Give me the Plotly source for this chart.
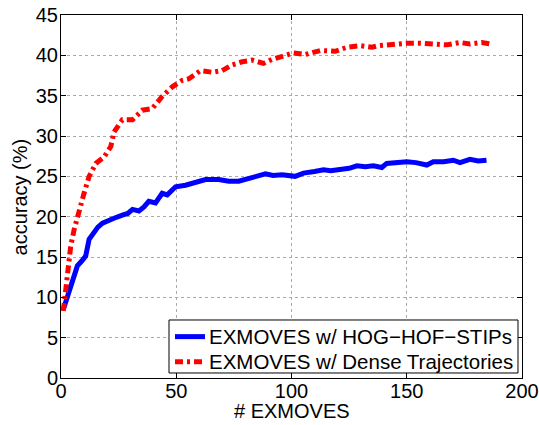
import plotly.graph_objects as go

# HOG-HOF-STIPs series
hog_x = [1, 3.5, 5.5, 7.1, 9, 10.7, 12.2, 14, 16, 18, 20, 23, 26.6, 29, 31, 33.8, 36, 38.1, 41,
         43.9, 46.1, 49.7, 54, 58.4, 62.7, 68.4, 72.8, 77.1, 82.9, 88.7, 92, 95.9, 101.6, 105.2,
         110, 113.9, 117, 121.1, 125, 128.4, 132, 135.5, 139.2, 141.3, 146, 150, 154, 158.7,
         161.5, 166, 170.2, 173.1, 177.4, 181, 184.6]
hog_y = [8.5, 10.6, 12.5, 13.9, 14.5, 15.1, 17.2, 18.0, 18.7, 19.2, 19.5, 19.8, 20.2, 20.4, 20.9,
         20.7, 21.2, 21.9, 21.7, 22.9, 22.7, 23.7, 23.9, 24.2, 24.6, 24.6, 24.4, 24.4, 24.8, 25.3,
         25.1, 25.2, 25.0, 25.4, 25.6, 25.8, 25.7, 25.8, 26.0, 26.3, 26.2, 26.3, 26.1, 26.6, 26.7,
         26.8, 26.7, 26.4, 26.8, 26.8, 27.0, 26.7, 27.1, 26.9, 27.0]

# Dense Trajectories series
dt_x = [1, 2.8, 4.2, 5.7, 7.8, 10, 12.2, 15.1, 18.7, 21.6, 23, 26.6, 31, 35.3, 39.6, 43.9, 48.3,
        52.6, 55.5, 60.5, 65.6, 69.9, 74.2, 78.6, 82.9, 87.9, 91.6, 97.3, 100.9, 106, 112.5, 119,
        124, 129.8, 134.9, 137.7, 144.2, 150, 155.8, 161.5, 167.3, 173.1, 177.4, 182.5, 186.8]
dt_y = [8.3, 12.6, 16.3, 18.4, 20.9, 22.9, 25.0, 26.6, 27.4, 28.7, 30.5, 32.0, 32.0, 33.2, 33.4,
        34.9, 36.1, 36.9, 37.1, 38.1, 37.9, 38.1, 38.8, 39.2, 39.4, 39.0, 39.5, 39.9, 40.3, 40.1,
        40.6, 40.5, 41.0, 41.2, 41.0, 41.2, 41.4, 41.5, 41.5, 41.4, 41.3, 41.6, 41.4, 41.6, 41.4]

series_names = ["EXMOVES w/ HOG\u2212HOF\u2212STIPs", "EXMOVES w/ Dense Trajectories"]
x_ticks = [0, 50, 100, 150, 200]
y_ticks = [0, 5, 10, 15, 20, 25, 30, 35, 40, 45]

FONT = "Liberation Sans, Arial, sans-serif"
FS = 20
BLUE = "#0000ff"
RED = "#ff0000"
RED_DASH = "8px,4px,3px,4px"

fig = go.Figure()
fig.add_trace(go.Scatter(x=hog_x, y=hog_y, mode="lines", name=series_names[0],
                         showlegend=False, line=dict(color=BLUE, width=5)))
fig.add_trace(go.Scatter(x=dt_x, y=dt_y, mode="lines", name=series_names[1],
                         showlegend=False, line=dict(color=RED, width=5, dash=RED_DASH)))

axis_common = dict(showline=True, linecolor="black", linewidth=1, mirror="ticks",
                   ticks="inside", ticklen=5, tickcolor="black", automargin=False,
                   ticklabeloverflow="allow",
                   showgrid=True, gridcolor="#aaaaaa", gridwidth=1, griddash="dot",
                   zeroline=False, tickfont=dict(size=FS, color="black", family=FONT))

fig.update_xaxes(range=[0, 200], tickvals=x_ticks, ticklabelstandoff=-5, **axis_common)
fig.update_yaxes(range=[0, 45], tickvals=y_ticks, ticklabelstandoff=-2, **axis_common)

fig.add_annotation(text="# EXMOVES", xref="paper", yref="paper", x=0.5, y=-0.091,
                   xanchor="center", yanchor="middle", showarrow=False,
                   font=dict(size=FS, color="black", family=FONT))
fig.add_annotation(text="accuracy (%)", xref="paper", yref="paper", x=-0.089, y=0.5,
                   xanchor="center", yanchor="middle", showarrow=False, textangle=-90,
                   font=dict(size=FS, color="black", family=FONT))

# Legend (drawn in paper coordinates, MATLAB style)
fig.add_shape(type="rect", xref="paper", yref="paper", x0=0.2343, x1=0.9913, y0=0.0138, y1=0.1598,
              line=dict(color="black", width=1), fillcolor="white", layer="above")
legend_rows = [(0.114, BLUE, "solid"), (0.045, RED, RED_DASH)]
for (ly, col, dash), name in zip(legend_rows, series_names):
    fig.add_shape(type="line", xref="paper", yref="paper", x0=0.2473, x1=0.3124, y0=ly, y1=ly,
                  line=dict(color=col, width=5, dash=dash), layer="above")
    fig.add_annotation(text=name, xref="paper", yref="paper", x=0.3167, y=ly,
                       xanchor="left", yanchor="middle", showarrow=False,
                       font=dict(size=20.5, color="black", family=FONT))

fig.update_layout(
    width=539, height=425,
    margin=dict(l=61, r=17, t=15, b=47),
    paper_bgcolor="white", plot_bgcolor="white",
    font=dict(family=FONT, size=FS, color="black"),
    showlegend=False,
)

fig.write_html("out.html", config={"displayModeBar": False},
               post_script="document.body.style.margin='0';document.body.style.overflow='hidden';")
